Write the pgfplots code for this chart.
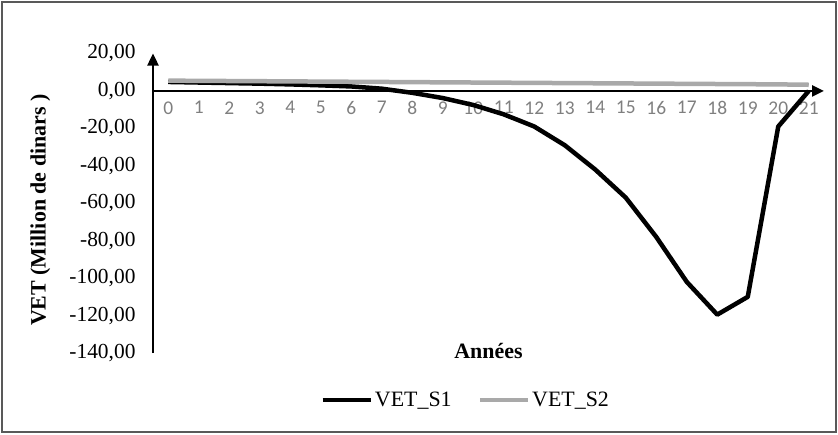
\documentclass[border=0pt]{standalone}
\usepackage{fontspec}
\setmainfont{Liberation Serif}
\newfontfamily\carlito{Carlito}
\usepackage{pgfplots}
\pgfplotsset{compat=1.18}
\usetikzlibrary{arrows.meta}
\definecolor{sgray}{HTML}{A9A9A9}
\definecolor{tgray}{HTML}{7F7F7F}
\definecolor{fgray}{HTML}{595959}

\begin{document}
\begin{tikzpicture}
\useasboundingbox (0bp,0bp) rectangle (838bp,-435bp);
\draw[line width=1.2bp, fgray] (2bp,-2bp) rectangle (836bp,-432bp);
\begin{axis}[
  at={(153bp,-353bp)}, anchor=south west,
  scale only axis, width=671bp, height=299.5bp,
  xmin=-0.5, xmax=21.5, ymin=-140, ymax=20,
  clip=false,
  axis x line=middle, axis y line=left,
  x axis line style={line width=2.4bp, -{Triangle[length=12bp,width=11bp]}},
  y axis line style={line width=2.4bp, -{Triangle[length=12bp,width=11bp]}},
  major tick length=0pt,
  xtick={0,...,21},
  xticklabel style={/pgf/number format/assume math mode=true,
    font=\carlito\fontsize{19.5}{19.5}\selectfont, text=tgray, anchor=north, yshift=-7bp},
  ytick={20,0,-20,-40,-60,-80,-100,-120,-140},
  yticklabels={{20,00},{0,00},{-20,00},{-40,00},{-60,00},{-80,00},{-100,00},{-120,00},{-140,00}},
  yticklabel style={font=\fontsize{21.5}{21.5}\selectfont, anchor=east, xshift=-14bp},
  xlabel={\textbf{Années}},
  ylabel={\textbf{VET (Million de dinars )}},
  every axis x label/.style={at={(axis description cs:0.5,0.007)}, anchor=center, font=\fontsize{22}{22}\selectfont},
  every axis y label/.style={at={(axis description cs:-0.168,0.477)}, rotate=90, anchor=center, font=\fontsize{22}{22}\selectfont},
  legend columns=2,
  legend style={at={(axis description cs:0.466,-0.157)}, anchor=center, draw=none, fill=none,
    font=\fontsize{22}{22}\selectfont,
    /tikz/every even column/.append style={column sep=24bp}},
  legend image code/.code={\draw[#1] (0bp,0bp) -- (48bp,0bp);},
]
\addplot[black, line width=4.5bp, line join=round] coordinates {
  (0,4.8) (1,4.5) (2,4.2) (3,3.9) (4,3.5) (5,3.0) (6,2.4) (7,1.2)
  (8,-1.0) (9,-3.8) (10,-7.5) (11,-12.5) (12,-19) (13,-29) (14,-42)
  (15,-57) (16,-78) (17,-102) (18,-119.5) (19,-110) (20,-19) (21,0)
};
\addlegendentry{VET\_S1}
\addplot[sgray, line width=4.5bp, line join=round] coordinates {
  (0,5.5) (1,5.4) (2,5.3) (3,5.2) (4,5.1) (5,5.0) (6,4.9) (7,4.8)
  (8,4.7) (9,4.6) (10,4.5) (11,4.4) (12,4.3) (13,4.2) (14,4.1)
  (15,4.0) (16,3.9) (17,3.8) (18,3.7) (19,3.6) (20,3.5) (21,3.3)
};
\addlegendentry{VET\_S2}
\end{axis}
\end{tikzpicture}
\end{document}
